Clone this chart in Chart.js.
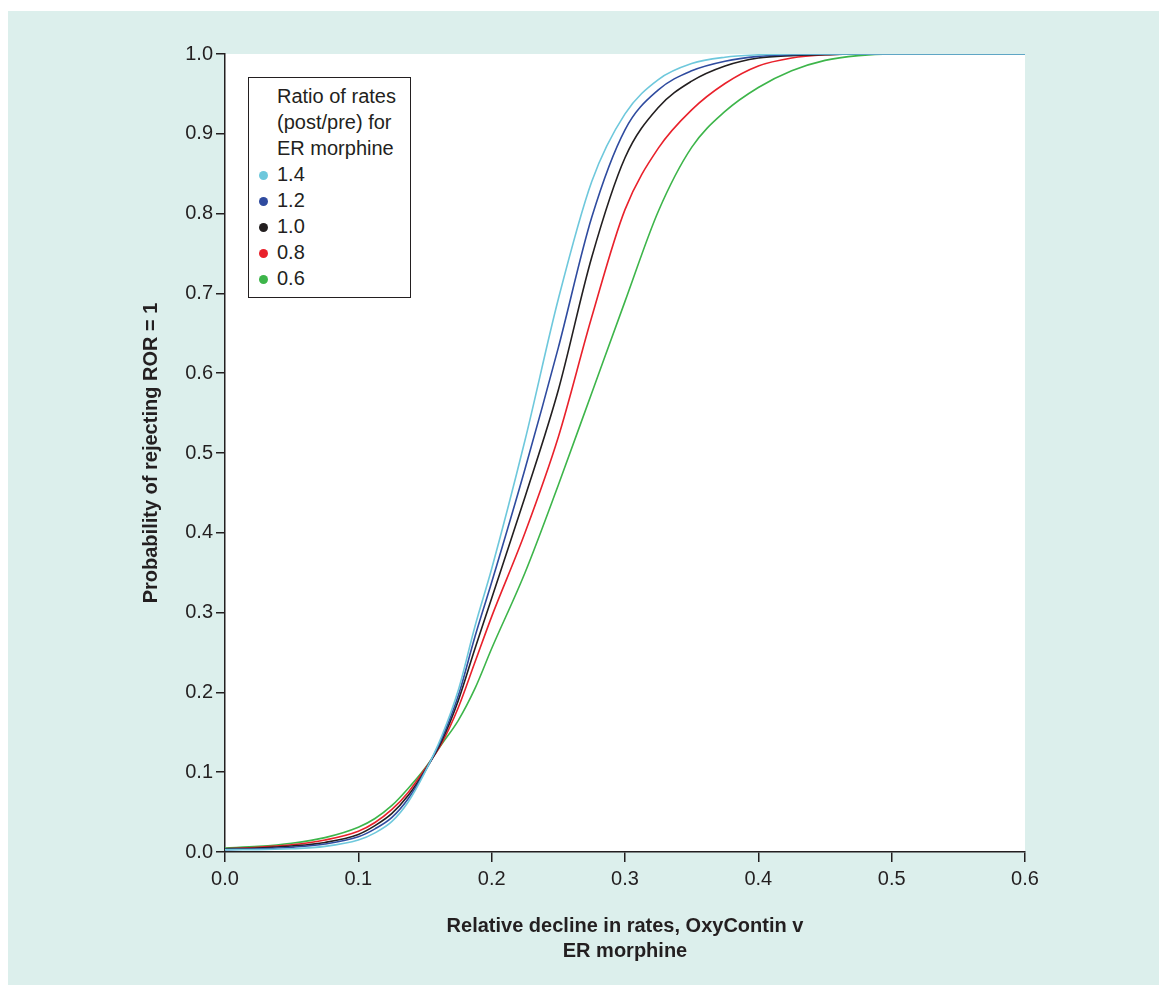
<!DOCTYPE html>
<html lang="en">
  <head>
    <meta charset="UTF-8" />
    <title>Probability of rejecting ROR = 1</title>
    <script src="https://cdn.jsdelivr.net/npm/chart.js"></script>
    <style>
      html, body { margin: 0; padding: 0; background: #ffffff; }
      body { width: 1159px; height: 985px; position: relative; overflow: hidden; font-family: "Liberation Sans", Arial, Helvetica, sans-serif; }
      .painel { position: absolute; left: 8px; top: 11px; right: 0; bottom: 0; background: #dcefec; }
      #grafico { position: absolute; left: 0; top: 0; }
      .legenda {
        position: absolute; left: 248px; top: 77px; width: 161px;
        border: 1px solid #231f20; background: #ffffff;
        padding: 5px 0 6px 0; color: #231f20; font-size: 20px; line-height: 26px;
      }
      .legenda .titulo { padding-left: 28px; }
      .legenda .item { position: relative; padding-left: 28px; }
      .legenda .item i {
        position: absolute; left: 10px; top: 10px; width: 9px; height: 9px; border-radius: 50%;
      }
    </style>
  </head>
  <body>
    <div class="painel"></div>
    <canvas id="grafico" width="1159" height="985"></canvas>
    <div class="legenda" id="legenda"></div>

    <script>
      // valores (declinio relativo x probabilidade)
      const declinio = [0, 0.025, 0.05, 0.075, 0.1, 0.1125, 0.125, 0.1375, 0.15, 0.1625, 0.175, 0.1875, 0.2, 0.225, 0.25, 0.275, 0.3, 0.325, 0.35, 0.375, 0.4, 0.425, 0.45, 0.475, 0.5, 0.55, 0.6];
      const razao14 = [0.003, 0.003, 0.004, 0.007, 0.015, 0.024, 0.038, 0.063, 0.1, 0.145, 0.203, 0.283, 0.355, 0.516, 0.693, 0.84, 0.925, 0.968, 0.988, 0.996, 0.999, 1, 1, 1, 1, 1, 1];
      const razao12 = [0.003, 0.004, 0.006, 0.01, 0.019, 0.029, 0.043, 0.067, 0.101, 0.142, 0.196, 0.27, 0.338, 0.48, 0.632, 0.795, 0.905, 0.955, 0.979, 0.991, 0.997, 0.999, 1, 1, 1, 1, 1];
      const razao10 = [0.004, 0.005, 0.0075, 0.012, 0.022, 0.033, 0.048, 0.071, 0.102, 0.139, 0.19, 0.255, 0.318, 0.445, 0.579, 0.745, 0.87, 0.933, 0.966, 0.985, 0.995, 0.998, 0.999, 1, 1, 1, 1];
      const razao08 = [0.004, 0.006, 0.009, 0.015, 0.026, 0.037, 0.053, 0.075, 0.104, 0.136, 0.181, 0.238, 0.295, 0.4, 0.52, 0.67, 0.805, 0.882, 0.93, 0.963, 0.985, 0.995, 0.999, 1, 1, 1, 1];
      const razao06 = [0.005, 0.007, 0.011, 0.018, 0.031, 0.042, 0.058, 0.08, 0.105, 0.135, 0.165, 0.205, 0.255, 0.35, 0.46, 0.575, 0.69, 0.803, 0.883, 0.928, 0.958, 0.979, 0.992, 0.998, 1, 1, 1];

      const rotulos = ["1.4", "1.2", "1.0", "0.8", "0.6"];
      const cores = ["#6ec8dc", "#2f4b9f", "#231f20", "#e9212b", "#3db54a"];
      const series = [razao14, razao12, razao10, razao08, razao06];

      const tituloLegenda = ["Ratio of rates", "(post/pre) for", "ER morphine"];
      const tituloX = ["Relative decline in rates, OxyContin v", "ER morphine"];
      const tituloY = "Probability of rejecting ROR = 1";

      const fonte = "'Liberation Sans', Arial, Helvetica, sans-serif";
      const corTexto = "#231f20";

      // fundo branco so na area do grafico
      const fundoArea = {
        id: "fundoArea",
        beforeDraw(chart) {
          const { ctx, chartArea } = chart;
          ctx.save();
          ctx.fillStyle = "#ffffff";
          ctx.fillRect(chartArea.left, chartArea.top, chartArea.right - chartArea.left, chartArea.bottom - chartArea.top);
          ctx.restore();
        },
      };

      // legenda em html montada a partir dos datasets
      const legendaHtml = {
        id: "legendaHtml",
        afterUpdate(chart) {
          const caixa = document.getElementById("legenda");
          let html = tituloLegenda.map((t) => `<div class="titulo">${t}</div>`).join("");
          chart.data.datasets.forEach((ds) => {
            html += `<div class="item"><i style="background:${ds.borderColor}"></i>${ds.label}</div>`;
          });
          caixa.innerHTML = html;
        },
      };

      const dados = {
        datasets: series.map((valores, i) => ({
          label: rotulos[i],
          data: declinio.map((x, j) => ({ x: x, y: valores[j] })),
          borderColor: cores[i],
          backgroundColor: cores[i],
          borderWidth: 1.6,
          pointRadius: 0,
          fill: false,
          cubicInterpolationMode: "monotone",
          order: i,
        })),
      };

      const config = {
        type: "line",
        data: dados,
        plugins: [fundoArea, legendaHtml],
        options: {
          responsive: false,
          animation: false,
          devicePixelRatio: 1,
          layout: { padding: { left: 135, top: 54, right: 134, bottom: 14 } },
          plugins: {
            legend: { display: false },
            tooltip: { enabled: false },
          },
          scales: {
            x: {
              type: "linear",
              min: 0,
              max: 0.6,
              afterFit: (s) => { s.height = 119; },
              border: { display: true, color: corTexto, width: 1.5 },
              grid: { drawOnChartArea: false, drawTicks: true, tickLength: 10, color: corTexto, lineWidth: 1.5 },
              ticks: {
                stepSize: 0.1,
                padding: 5,
                color: corTexto,
                font: { family: fonte, size: 20 },
                callback: (v) => v.toFixed(1),
              },
              title: {
                display: true,
                text: tituloX,
                color: corTexto,
                font: { family: fonte, size: 20, weight: "bold", lineHeight: 1.25 },
                padding: { top: 0, bottom: 7 },
              },
            },
            y: {
              type: "linear",
              min: 0,
              max: 1,
              afterFit: (s) => { s.width = 90; },
              border: { display: true, color: corTexto, width: 1.5 },
              grid: { drawOnChartArea: false, drawTicks: true, tickLength: 9, color: corTexto, lineWidth: 1.5 },
              ticks: {
                stepSize: 0.1,
                padding: 3,
                color: corTexto,
                font: { family: fonte, size: 20 },
                callback: (v) => v.toFixed(1),
              },
              title: {
                display: true,
                text: tituloY,
                color: corTexto,
                font: { family: fonte, size: 20, weight: "bold", lineHeight: 1.2 },
                padding: { top: 4, bottom: 4 },
              },
            },
          },
        },
      };

      new Chart(document.getElementById("grafico"), config);
    </script>
  </body>
</html>
